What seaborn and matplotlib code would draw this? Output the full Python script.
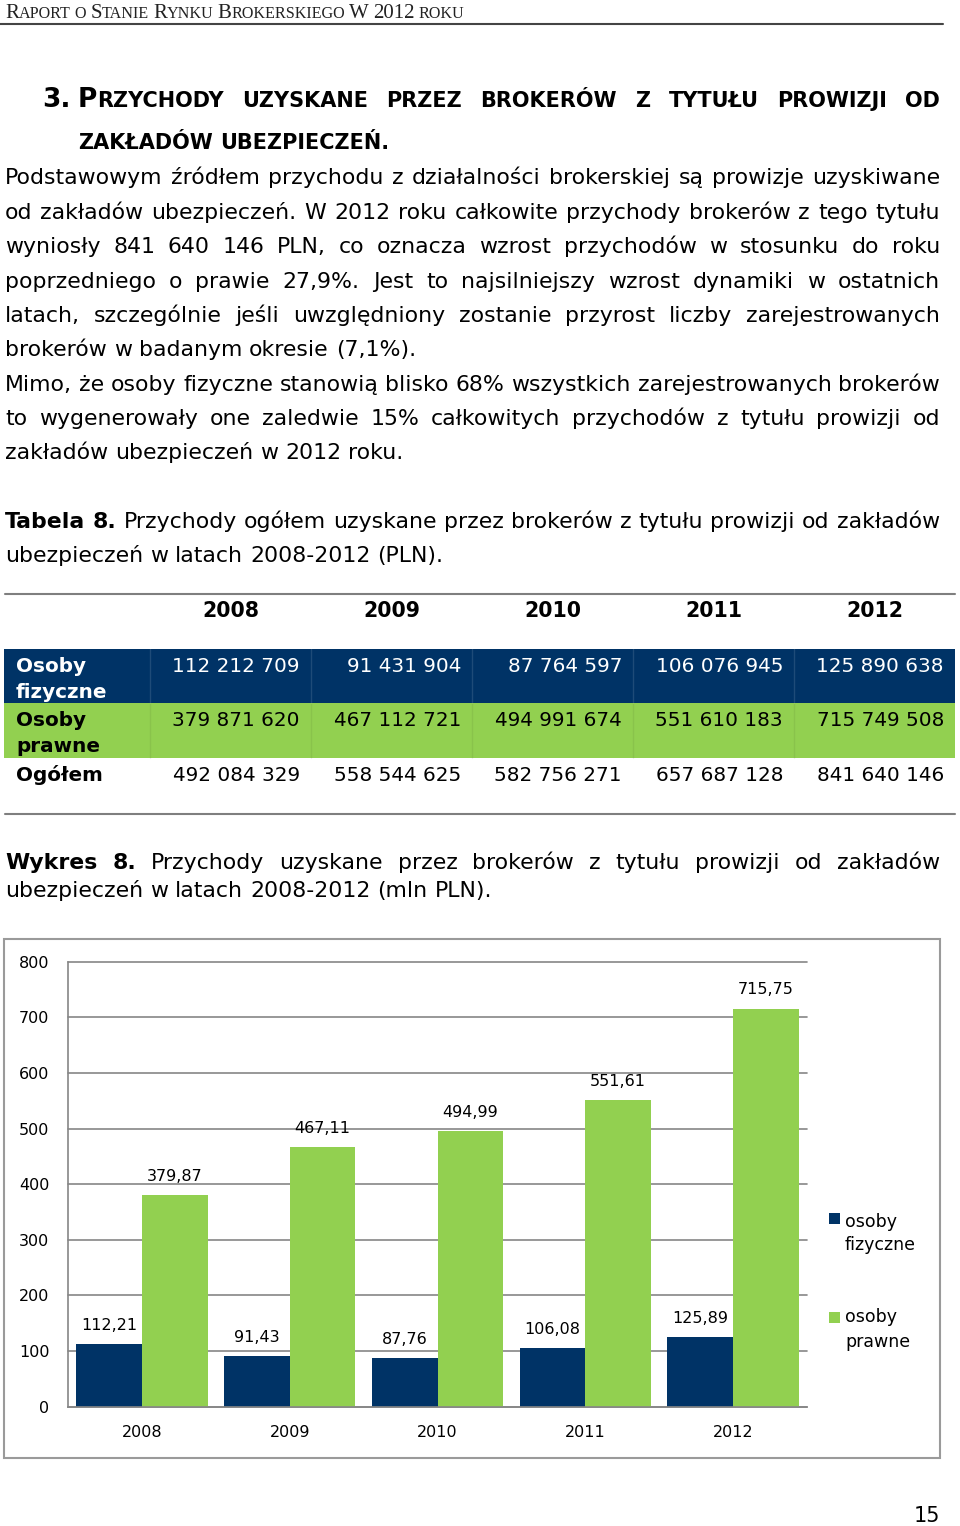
import matplotlib
matplotlib.use('Agg')
import matplotlib.pyplot as plt
import seaborn as sns
import pandas as pd
from matplotlib.patches import Rectangle
from matplotlib.lines import Line2D

# --- dane ---
lata = ['2008', '2009', '2010', '2011', '2012']
osoby_fizyczne = [112.21, 91.43, 87.76, 106.08, 125.89]   # mln PLN
osoby_prawne = [379.87, 467.11, 494.99, 551.61, 715.75]   # mln PLN
tab_fizyczne = [112212709, 91431904, 87764597, 106076945, 125890638]
tab_prawne = [379871620, 467112721, 494991674, 551610183, 715749508]
tab_ogolem = [492084329, 558544625, 582756271, 657687128, 841640146]
y_ticks = [0, 100, 200, 300, 400, 500, 600, 700, 800]

NAVY = '#003366'
GREEN = '#92D050'
GRID = '#868686'

sns.set_style('white')
plt.rcParams['font.family'] = ['DejaVu Sans']
plt.rcParams['text.color'] = 'black'
plt.rcParams['xtick.color'] = 'black'
plt.rcParams['ytick.color'] = 'black'

W, H = 960, 1526
fig = plt.figure(figsize=(W / 100, H / 100), dpi=100)
renderer = fig.canvas.get_renderer()


def fx(x):
    return x / W


def fy(y):
    return 1 - y / H


def text_w(s, **kw):
    t = fig.text(0, 0, s, **kw)
    w = t.get_window_extent(renderer).width
    t.remove()
    return w


def line(y, words, x0=5, x1=940, justify=True, size=15.8, weight='normal',
         family='DejaVu Sans', color='black'):
    norm = [[(w, {})] if isinstance(w, str) else w for w in words]
    scale = 1.0
    while True:
        def props(p):
            return dict(fontsize=p.get('size', size) * scale,
                        fontweight=p.get('weight', weight),
                        family=p.get('family', family),
                        color=p.get('color', color))
        widths = [[text_w(t, **props(p)) for t, p in w] for w in norm]
        total = sum(sum(ws) for ws in widths)
        space = text_w('a a', **props({})) - text_w('aa', **props({}))
        if justify and len(norm) > 1:
            gap = (x1 - x0 - total) / (len(norm) - 1)
            if gap < 0.6 * space and scale > 0.85:
                scale -= 0.01
                continue
        else:
            gap = space
        break
    x = x0
    for w, ws in zip(norm, widths):
        for (t, p), cw in zip(w, ws):
            fig.text(fx(x), fy(y), t, ha='left', va='baseline', **props(p))
            x += cw
        x += gap


def hline(y, x0, x1, color, lw):
    fig.add_artist(Line2D([fx(x0), fx(x1)], [fy(y), fy(y)], transform=fig.transFigure,
                          color=color, lw=lw))


def rect(x0, y0, x1, y1, **kw):
    fig.add_artist(Rectangle((fx(x0), fy(y1)), (x1 - x0) / W, (y1 - y0) / H,
                             transform=fig.transFigure, **kw))


# --- naglowek strony ---
L = {'size': 15}
line(18, [[('R', L), ('APORT', {})], [('O', {})], [('S', L), ('TANIE', {})],
          [('R', L), ('YNKU', {})], [('B', L), ('ROKERSKIEGO', {})], [('W', L)],
          [('2012', L)], [('ROKU', {})]],
     x0=5, justify=False, size=11.6, family='Liberation Serif', color='#222222')
hline(24, 0, 943, '#444444', 1.5)

# --- tytul rozdzialu ---
fig.text(fx(42), fy(107), '3.', ha='left', va='baseline', fontsize=19, fontweight='bold')
B = {'size': 19}
line(107, [[('P', B), ('RZYCHODY', {})], 'UZYSKANE', 'PRZEZ', 'BROKERÓW', 'Z',
           'TYTUŁU', 'PROWIZJI', 'OD'], x0=78, x1=940, size=15, weight='bold')
line(149, ['ZAKŁADÓW', 'UBEZPIECZEŃ.'], x0=78, justify=False, size=15, weight='bold')

# --- tekst ---
akapit = [
    (184, 'Podstawowym źródłem przychodu z działalności brokerskiej są prowizje uzyskiwane', True),
    (219, 'od zakładów ubezpieczeń. W 2012 roku całkowite przychody brokerów z tego tytułu', True),
    (253, 'wyniosły 841 640 146 PLN, co oznacza wzrost przychodów w stosunku do roku', True),
    (288, 'poprzedniego o prawie 27,9%. Jest to najsilniejszy wzrost dynamiki w ostatnich', True),
    (322, 'latach, szczególnie jeśli uwzględniony zostanie przyrost liczby zarejestrowanych', True),
    (356, 'brokerów w badanym okresie (7,1%).', False),
    (391, 'Mimo, że osoby fizyczne stanowią blisko 68% wszystkich zarejestrowanych brokerów', True),
    (425, 'to wygenerowały one zaledwie 15% całkowitych przychodów z tytułu prowizji od', True),
    (459, 'zakładów ubezpieczeń w 2012 roku.', False),
]
for y, s, j in akapit:
    line(y, s.split(' '), justify=j)

BOLD = {'weight': 'bold'}
line(528, [[('Tabela', BOLD)], [('8.', BOLD)]] +
     'Przychody ogółem uzyskane przez brokerów z tytułu prowizji od zakładów'.split(' '))
line(562, 'ubezpieczeń w latach 2008-2012 (PLN).'.split(' '), justify=False)

# --- tabela ---
granice = [150, 311, 472, 633, 794, 955]
hline(594, 5, 955, '#7f7f7f', 1.5)
hline(814, 5, 955, '#7f7f7f', 1.5)
rect(4, 649, 955, 703, fc=NAVY, ec='none')
rect(4, 703, 955, 758, fc=GREEN, ec='none')
for gx in granice[:-1]:
    fig.add_artist(Line2D([fx(gx)] * 2, [fy(649), fy(703)], transform=fig.transFigure,
                          color='white', alpha=0.12, lw=1))
    fig.add_artist(Line2D([fx(gx)] * 2, [fy(703), fy(758)], transform=fig.transFigure,
                          color='black', alpha=0.06, lw=1))

for i, rok in enumerate(lata):
    cx = (granice[i] + granice[i + 1]) / 2
    fig.text(fx(cx), fy(617), rok, ha='center', va='baseline', fontsize=14.8, fontweight='bold')


def liczba(n):
    return f'{n:,}'.replace(',', ' ')


wiersze = [
    (['Osoby', 'fizyczne'], tab_fizyczne, 672, 'white'),
    (['Osoby', 'prawne'], tab_prawne, 726, 'black'),
    (['Ogółem'], tab_ogolem, 781, 'black'),
]
for etyk, vals, by, col in wiersze:
    for k, e in enumerate(etyk):
        fig.text(fx(16), fy(by + 26 * k), e, ha='left', va='baseline', fontsize=14.4,
                 fontweight='bold', color=col)
    for i, v in enumerate(vals):
        fig.text(fx(granice[i + 1] - 11), fy(by), liczba(v), ha='right', va='baseline',
                 fontsize=14.4, color=col)

# --- podpis wykresu ---
line(869, [[('Wykres', BOLD)], [('8.', BOLD)]] +
     'Przychody uzyskane przez brokerów z tytułu prowizji od zakładów'.split(' '))
line(897, 'ubezpieczeń w latach 2008-2012 (mln PLN).'.split(' '), justify=False)

# --- wykres ---
rect(4, 939, 940, 1458, fill=False, ec='#9a9a9a', lw=1.5)

df = pd.DataFrame({
    'rok': lata * 2,
    'wartosc': osoby_fizyczne + osoby_prawne,
    'grupa': ['osoby fizyczne'] * len(lata) + ['osoby prawne'] * len(lata),
})
ax = fig.add_axes([fx(68), fy(1406.7), 739 / W, 445 / H])
ax.set_facecolor('none')
sns.barplot(data=df, x='rok', y='wartosc', hue='grupa', palette=[NAVY, GREEN],
            saturation=1, width=0.89, errorbar=None, linewidth=0, legend=False, ax=ax)

ax.set_xlim(-0.5, 4.5)
ax.set_ylim(0, 800)
ax.set_yticks(y_ticks)
ax.set_xlabel('')
ax.set_ylabel('')
ax.set_xticks([i - 0.5 for i in range(6)])
ax.set_xticklabels([''] * 6)
ax.set_xticks(range(5), minor=True)
ax.set_xticklabels(lata, minor=True)
ax.tick_params(axis='x', which='major', length=4.3, width=1, color=GRID, direction='out')
ax.tick_params(axis='x', which='minor', length=0, pad=13, labelsize=11.5, labelcolor='black')
ax.tick_params(axis='y', length=4.3, width=1, color=GRID, direction='out', pad=9,
               labelsize=11.5, labelcolor='black')
ax.yaxis.grid(True, color=GRID, lw=1.2)
ax.xaxis.grid(False)
ax.set_axisbelow(True)
for gl in ax.get_ygridlines():
    gl.set_clip_on(False)
for s in ['top', 'right']:
    ax.spines[s].set_visible(False)
for s in ['left', 'bottom']:
    ax.spines[s].set_color(GRID)
    ax.spines[s].set_linewidth(1.2)

for cont in ax.containers:
    ax.bar_label(cont, labels=[f'{v:.2f}'.replace('.', ',') for v in cont.datavalues],
                 padding=8, fontsize=11.5, color='black')

# legenda
rect(829, 1213, 840, 1224, fc=NAVY, ec='none')
rect(829, 1312, 840, 1323, fc=GREEN, ec='none')
for ty, s in [(1222, 'osoby'), (1245, 'fizyczne'), (1317, 'osoby'), (1342, 'prawne')]:
    fig.text(fx(845), fy(ty), s, ha='left', va='center', fontsize=12.5)

# numer strony
fig.text(fx(940), fy(1522), '15', ha='right', va='baseline', fontsize=15)

fig.savefig('out.png', dpi=100)
